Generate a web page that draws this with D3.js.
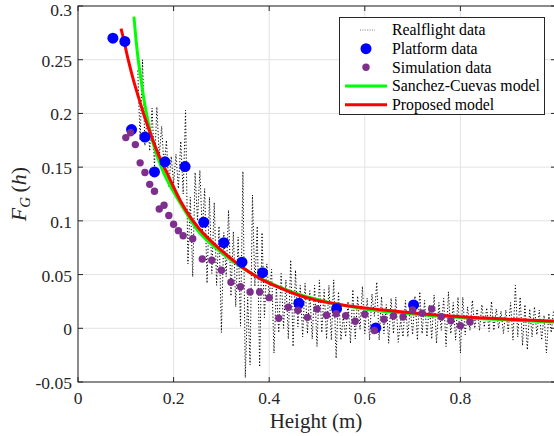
<!DOCTYPE html>
<html><head><meta charset="utf-8">
<script src="https://cdn.jsdelivr.net/npm/d3@7"></script>
<style>body{margin:0;background:#fff}svg{display:block}
svg text{font-family:"Liberation Serif","Times New Roman",Times,"DejaVu Serif",serif}</style>
</head><body><svg id="c" width="554" height="436"></svg>
<script>
// ---------- data ----------
const xTicks = [0, 0.2, 0.4, 0.6, 0.8];
const yTicks = [-0.05, 0, 0.05, 0.1, 0.15, 0.2, 0.25, 0.3];
const yTickLabels = ["-0.05", "0", "0.05", "0.1", "0.15", "0.2", "0.25", "0.3"];
const seriesNames = ["Realflight data", "Platform data", "Simulation data", "Sanchez-Cuevas model", "Proposed model"];

// Real flight: sampled every 0.005 m starting at 0.125 m
const realStart = 0.125, realStep = 0.005;
const realF = [
 0.240,0.175,0.250,0.170,0.200,0.165,0.205,0.150,0.206,0.160,
 0.188,0.150,0.175,0.132,0.160,0.135,0.162,0.130,0.174,0.125,
 0.203,0.060,0.122,0.048,0.145,0.100,0.147,0.090,0.130,0.042,
 0.122,0.051,0.117,0.040,0.095,-0.004,0.089,0.048,0.110,0.030,
 0.090,0.020,0.085,0.002,0.146,-0.046,0.029,-0.034,0.124,0.039,
 0.095,-0.036,0.089,0.010,0.060,0.029,0.055,-0.023,0.039,-0.004,
 0.051,0.000,0.045,-0.010,0.0636,-0.017,0.054,0.0015,0.040,-0.008,
 0.042,-0.005,0.035,-0.010,0.040,-0.017,0.045,-0.004,0.036,-0.010,
 0.040,-0.011,0.045,-0.028,0.034,-0.011,0.011,-0.008,0.025,-0.014,
 0.036,-0.010,0.030,-0.001,0.039,-0.005,0.028,-0.011,0.032,0.011,
 0.043,-0.011,0.0295,-0.005,0.022,-0.014,0.028,-0.005,0.029,-0.013,
 0.008,-0.008,0.026,-0.008,0.020,-0.006,0.030,-0.011,0.034,-0.005,
 0.026,-0.008,0.022,-0.010,0.031,-0.014,0.024,-0.002,0.028,-0.017,
 0.034,-0.005,0.024,-0.011,0.029,-0.023,0.029,-0.006,0.020,-0.002,
 0.026,0.000,0.018,-0.002,0.022,0.001,0.019,-0.003,0.025,-0.002,
 0.018,0.000,0.016,-0.005,0.017,-0.003,0.024,-0.011,0.040,-0.008,
 0.029,-0.016,0.022,-0.020,0.018,-0.008,0.020,-0.006,0.017,-0.011,
 0.012,-0.023,0.014,-0.004,0.017
];
const realH = realF.map((_, i) => realStart + realStep * i);

const platH = [0.073,0.098,0.112,0.140,0.160,0.182,0.224,0.263,0.305,0.343,0.386,0.462,0.541,0.623,0.702];
const platF = [0.270,0.267,0.185,0.178,0.1455,0.155,0.1505,0.0987,0.0797,0.0615,0.0518,0.0233,0.0183,0.0003,0.0217];

const simH = [0.10,0.11,0.12,0.13,0.14,0.15,0.16,0.17,0.18,0.19,0.20,0.21,0.22,0.24,0.26,0.28,0.30,0.32,0.34,0.36,0.38,0.40,
              0.42,0.44,0.46,0.48,0.50,0.52,0.54,0.56,0.58,0.60,0.62,0.64,0.66,0.68,0.70,0.72,0.74,0.76,0.78,0.80,0.82];
const simF = [0.1775,0.182,0.171,0.154,0.145,0.134,0.1276,0.111,0.1145,0.105,0.0968,0.0909,0.0862,0.0834,0.0645,0.0633,0.054,0.0428,0.0387,0.0338,0.0338,0.0285,
              0.0093,0.0196,0.0168,0.0102,0.018,0.0121,0.0136,0.0117,0.0065,0.013,-0.002,0.0084,0.0115,0.0105,0.017,0.014,0.018,0.0108,0.0071,0.0024,0.0059];

const scH = [0.117,0.121,0.126,0.132,0.138,0.145,0.152,0.16,0.17,0.18,0.19,0.2,0.22,0.25,0.3,0.35,0.4,0.45,0.5,0.55,0.6,0.7,0.8,0.9,1.0];
const scF = [0.290,0.270,0.250,0.231,0.213,0.196,0.181,0.168,0.155,0.144,0.135,0.127,0.112,0.0915,0.0705,0.0545,0.0425,0.0335,0.0268,0.0218,0.018,0.0133,0.0101,0.0078,0.0058];

const propH = [0.09,0.095,0.105,0.116,0.126,0.137,0.151,0.17,0.19,0.215,0.235,0.255,0.28,0.3,0.34,0.38,0.42,0.46,0.5,0.55,0.6,0.65,0.7,0.75,0.8,0.85,0.9,0.95,1.0];
const propF = [0.279,0.270,0.250,0.231,0.216,0.200,0.182,0.160,0.141,0.118,0.1035,0.092,0.0805,0.0725,0.058,0.0465,0.038,0.031,0.026,0.022,0.019,0.0165,0.0142,0.0124,0.0108,0.0096,0.0085,0.0075,0.0067];

// ---------- drawing ----------
const svg = d3.select("#c");
const L = 78, R = 556, T = 6, B = 382;
const x = d3.scaleLinear().domain([0, 1]).range([L, R]);
const y = d3.scaleLinear().domain([-0.05, 0.3]).range([B, T]);
const axisCol = "#262626";

const clip = svg.append("defs").append("clipPath").attr("id", "pa");
clip.append("rect").attr("x", L).attr("y", T).attr("width", R - L).attr("height", B - T);

// grid
const grid = svg.append("g");
xTicks.concat([1]).forEach(v => grid.append("line").attr("x1", x(v)).attr("x2", x(v)).attr("y1", T).attr("y2", B)
  .attr("stroke", "#e3e3e3").attr("stroke-width", 1));
yTicks.forEach(v => grid.append("line").attr("x1", L).attr("x2", R).attr("y1", y(v)).attr("y2", y(v))
  .attr("stroke", "#e3e3e3").attr("stroke-width", 1));

const plot = svg.append("g").attr("clip-path", "url(#pa)");

// realflight
const realData = realH.map((h, i) => [h, realF[i]]);
plot.append("path").datum(realData)
  .attr("d", d3.line().x(d => x(d[0])).y(d => y(d[1])))
  .attr("fill", "none").attr("stroke", "#000").attr("stroke-width", 1)
  .attr("stroke-dasharray", "1.2,2");

// models
const lineGen = d3.line().x(d => x(d[0])).y(d => y(d[1])).curve(d3.curveMonotoneX);
plot.append("path").datum(scH.map((h, i) => [h, scF[i]]))
  .attr("d", lineGen).attr("fill", "none").attr("stroke", "#00ff00").attr("stroke-width", 3);
plot.append("path").datum(propH.map((h, i) => [h, propF[i]]))
  .attr("d", lineGen).attr("fill", "none").attr("stroke", "#ff0000").attr("stroke-width", 3);

// platform
plot.selectAll("circle.plat").data(platH.map((h, i) => [h, platF[i]])).enter().append("circle")
  .attr("cx", d => x(d[0])).attr("cy", d => y(d[1])).attr("r", 5.5).attr("fill", "#0000ff");
// simulation
plot.selectAll("circle.sim").data(simH.map((h, i) => [h, simF[i]])).enter().append("circle")
  .attr("cx", d => x(d[0])).attr("cy", d => y(d[1])).attr("r", 3.7).attr("fill", "#7e2f8e");

// axes frame + ticks
const ax = svg.append("g").attr("stroke", axisCol).attr("stroke-width", 1).attr("fill", "none");
ax.append("rect").attr("x", L).attr("y", T).attr("width", R - L).attr("height", B - T);
xTicks.concat([1]).forEach(v => {
  ax.append("line").attr("x1", x(v)).attr("x2", x(v)).attr("y1", B).attr("y2", B - 5);
  ax.append("line").attr("x1", x(v)).attr("x2", x(v)).attr("y1", T).attr("y2", T + 5);
});
yTicks.forEach(v => {
  ax.append("line").attr("x1", L).attr("x2", L + 5).attr("y1", y(v)).attr("y2", y(v));
  ax.append("line").attr("x1", R).attr("x2", R - 5).attr("y1", y(v)).attr("y2", y(v));
});

// tick labels
const tl = svg.append("g").attr("font-size", 17.5).attr("fill", axisCol);
xTicks.forEach(v => tl.append("text").attr("x", x(v)).attr("y", 404).attr("text-anchor", "middle").text(String(v)));
yTicks.forEach((v, i) => tl.append("text").attr("x", 72).attr("y", Math.max(y(v) + 7, 16))
  .attr("text-anchor", "end").text(yTickLabels[i]));

// axis titles
svg.append("text").attr("x", 316).attr("y", 428).attr("text-anchor", "middle")
  .attr("font-size", 21).attr("fill", axisCol).text("Height (m)");
const yl = svg.append("text").attr("transform", "translate(26,194) rotate(-90)").attr("text-anchor", "middle")
  .attr("font-size", 22).attr("fill", axisCol);
yl.append("tspan").attr("font-style", "italic").text("F");
yl.append("tspan").attr("font-style", "italic").attr("font-size", 15).attr("dy", 4).text("G");
yl.append("tspan").attr("dy", -4).text("\u2009(");
yl.append("tspan").attr("font-style", "italic").text("h");
yl.append("tspan").text(")");

// legend
const lg = svg.append("g");
lg.append("rect").attr("x", 339.5).attr("y", 17.5).attr("width", 205).attr("height", 97)
  .attr("fill", "#fff").attr("stroke", axisCol).attr("stroke-width", 1);
const rowsY = [30, 48.7, 67.3, 86, 104.7];
seriesNames.forEach((n, i) => {
  lg.append("text").attr("x", 392).attr("y", rowsY[i]).attr("dy", "0.33em")
    .attr("font-size", 15.8).attr("fill", "#000").text(n);
});
lg.append("line").attr("x1", 360).attr("x2", 375).attr("y1", rowsY[0]).attr("y2", rowsY[0])
  .attr("stroke", "#555").attr("stroke-width", 0.8).attr("stroke-dasharray", "1,1.4");
lg.append("circle").attr("cx", 366).attr("cy", rowsY[1]).attr("r", 5.5).attr("fill", "#0000ff");
lg.append("circle").attr("cx", 366).attr("cy", rowsY[2]).attr("r", 3.7).attr("fill", "#7e2f8e");
lg.append("line").attr("x1", 345).attr("x2", 387).attr("y1", rowsY[3]).attr("y2", rowsY[3])
  .attr("stroke", "#00ff00").attr("stroke-width", 3);
lg.append("line").attr("x1", 345).attr("x2", 387).attr("y1", rowsY[4]).attr("y2", rowsY[4])
  .attr("stroke", "#ff0000").attr("stroke-width", 3);
</script></body></html>
